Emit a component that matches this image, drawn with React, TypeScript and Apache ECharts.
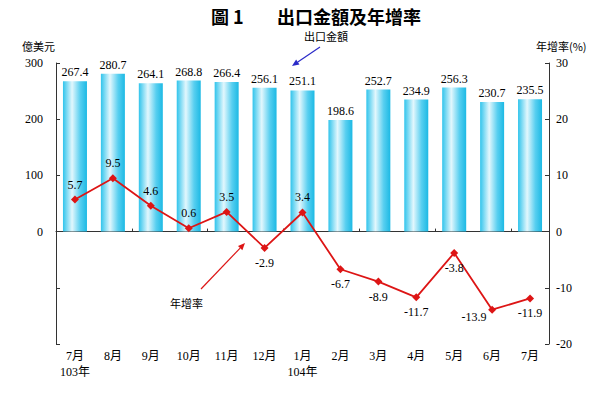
import React, { useEffect, useRef } from "react";
import * as echarts from "echarts";

const months = ["7月", "8月", "9月", "10月", "11月", "12月", "1月", "2月", "3月", "4月", "5月", "6月", "7月"];
const years = ["103年", "", "", "", "", "", "104年", "", "", "", "", "", ""];
const exportValues = [267.4, 280.7, 264.1, 268.8, 266.4, 256.1, 251.1, 198.6, 252.7, 234.9, 256.3, 230.7, 235.5];
const growthRates = [5.7, 9.5, 4.6, 0.6, 3.5, -2.9, 3.4, -6.7, -8.9, -11.7, -3.8, -13.9, -11.9];

const SERIF = "'Liberation Serif', 'Times New Roman', 'Noto Sans CJK TC', serif";
const CJK = "'Noto Sans CJK TC', sans-serif";

function arrow(x1: number, y1: number, x2: number, y2: number, color: string) {
  const ang = Math.atan2(y2 - y1, x2 - x1);
  const len = 7;
  const w = 3;
  const bx = x2 - len * Math.cos(ang);
  const by = y2 - len * Math.sin(ang);
  const px = -Math.sin(ang) * w;
  const py = Math.cos(ang) * w;
  return [
    { type: "line", shape: { x1, y1, x2: bx, y2: by }, style: { stroke: color, lineWidth: 1.2 } },
    {
      type: "polygon",
      shape: { points: [[x2, y2], [bx + px, by + py], [bx - px, by - py]] },
      style: { fill: color },
    },
  ];
}

export default function App() {
  const ref = useRef<HTMLDivElement>(null);
  useEffect(() => {
    if (!ref.current) return;
    const chart = echarts.init(ref.current, null, { renderer: "svg" });
    const catLabels = months.map((m, i) => (years[i] ? `${m}\n${years[i]}` : m));
    const barGradient = new echarts.graphic.LinearGradient(0, 0, 1, 0, [
      { offset: 0, color: "#30c4ec" },
      { offset: 0.38, color: "#e2f7fd" },
      { offset: 0.72, color: "#58cff0" },
      { offset: 1, color: "#1cb9e4" },
    ]);
    const lineData = growthRates.map((v, i) => ({
      value: v,
      label: {
        position: v < 0 ? "bottom" : "top",
        offset: i === 11 ? [-18, -8] : [0, 0],
      },
    }));
    chart.setOption({
      animation: false,
      grid: { left: 56, right: 67, top: 63, bottom: 54 },
      xAxis: [
        {
          type: "category",
          data: catLabels,
          position: "bottom",
          axisLine: { show: true, onZero: true, lineStyle: { color: "#333", width: 1.2 } },
          axisTick: { show: true, inside: true, length: 3, lineStyle: { color: "#333" } },
          axisLabel: { show: false },
        },
        {
          type: "category",
          data: catLabels,
          position: "bottom",
          axisLine: { show: false, onZero: false },
          axisTick: { show: false },
          axisLabel: {
            show: true,
            margin: 4,
            fontFamily: SERIF,
            fontSize: 12,
            lineHeight: 16,
            color: "#000",
            interval: 0,
          },
        },
      ],
      yAxis: [
        {
          type: "value",
          min: -200,
          max: 300,
          interval: 100,
          axisLine: { show: true, lineStyle: { color: "#333" } },
          axisTick: { show: true, inside: true, length: 4, lineStyle: { color: "#333" } },
          splitLine: { show: false },
          axisLabel: {
            formatter: (v: number) => (v >= 0 ? String(v) : ""),
            fontFamily: SERIF,
            fontSize: 12,
            color: "#000",
            margin: 13,
          },
        },
        {
          type: "value",
          min: -20,
          max: 30,
          interval: 10,
          position: "right",
          axisLine: { show: true, lineStyle: { color: "#333" } },
          axisTick: { show: true, inside: true, length: 4, lineStyle: { color: "#333" } },
          splitLine: { show: false },
          axisLabel: { fontFamily: SERIF, fontSize: 12, color: "#000", margin: 7 },
        },
      ],
      series: [
        {
          type: "bar",
          xAxisIndex: 0,
          yAxisIndex: 0,
          data: exportValues,
          barWidth: 24,
          itemStyle: { color: barGradient },
          label: {
            show: true,
            position: "top",
            distance: 3,
            fontFamily: SERIF,
            fontSize: 12,
            color: "#000",
            formatter: (p: any) => Number(p.value).toFixed(1),
          },
        },
        {
          type: "line",
          xAxisIndex: 0,
          yAxisIndex: 1,
          data: lineData,
          symbol: "diamond",
          symbolSize: 8,
          lineStyle: { color: "#dd1515", width: 1.8 },
          itemStyle: { color: "#dd1515" },
          label: {
            show: true,
            distance: 5,
            fontFamily: SERIF,
            fontSize: 12,
            color: "#000",
            formatter: (p: any) => Number(p.value).toFixed(1),
          },
          z: 5,
        },
      ],
      graphic: [
        {
          type: "text",
          left: 211,
          top: 7,
          style: { text: "圖 1", font: `bold 18px ${CJK}`, fill: "#000" },
        },
        {
          type: "text",
          left: 277,
          top: 7,
          style: { text: "出口金額及年增率", font: `bold 18px ${CJK}`, fill: "#000" },
        },
        {
          type: "text",
          left: 22,
          top: 40,
          style: { text: "億美元", font: `11px ${CJK}`, fill: "#000" },
        },
        {
          type: "text",
          left: 536,
          top: 40,
          style: { text: "年增率(%)", font: `11px ${CJK}`, fill: "#000" },
        },
        {
          type: "text",
          left: 304,
          top: 30,
          style: { text: "出口金額", font: `11px ${CJK}`, fill: "#000" },
        },
        {
          type: "text",
          left: 170,
          top: 297,
          style: { text: "年增率", font: `11px ${CJK}`, fill: "#000" },
        },
        ...arrow(320, 47, 292, 66, "#2a2ac8"),
        ...arrow(201, 289, 245, 243, "#dd1515"),
      ],
    });
    return () => chart.dispose();
  }, []);
  return (
    <div
      ref={ref}
      style={{ position: "fixed", left: 0, top: 0, width: 616, height: 398, background: "#fff" }}
    />
  );
}
